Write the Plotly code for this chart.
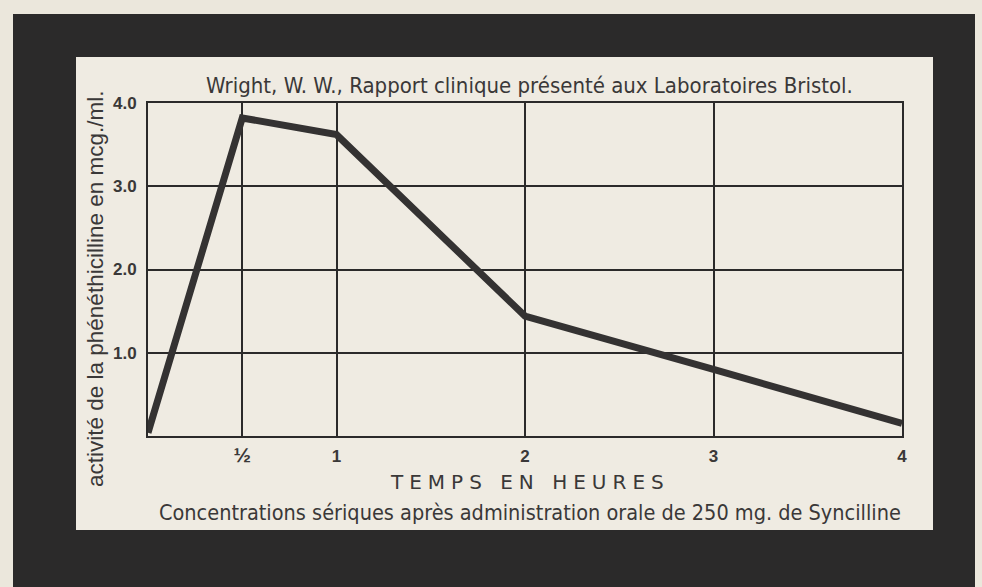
import plotly.graph_objects as go

# Serum concentration of phenethicillin after an oral dose of 250 mg
hours = [0, 0.5, 1, 2, 3, 4]
activity = [0.04, 3.82, 3.62, 1.44, 0.80, 0.15]

x_tick_vals = [0.5, 1, 2, 3, 4]
x_tick_text = ['<span style="font-size:21px">½</span>', "1", "2", "3", "4"]
y_tick_vals = [1, 2, 3, 4]
y_tick_text = ["1.0", "2.0", "3.0", "4.0"]

W, H = 982, 587
L, R, T, B = 148, 80, 103, 151
PW, PH = W - L - R, H - T - B


def px(x):
    return (x - L) / PW


def py(y):
    return (H - B - y) / PH


INK = "#2b2a2a"
PAPER = "#ebe7dc"
PANEL = "#efebe2"
TEXT = "#3a3838"
NARROW = "Liberation Sans Narrow, DejaVu Sans Condensed, Liberation Sans, sans-serif"
SANS = "Liberation Sans, Arial, sans-serif"


def label(text, x, y, font, angle=0):
    return dict(text=text, x=px(x), y=py(y), xref="paper", yref="paper",
                xanchor="center", yanchor="middle", showarrow=False,
                textangle=angle, font=font)


fig = go.Figure()
fig.add_trace(go.Scatter(
    x=hours, y=activity, mode="lines",
    line=dict(color="#343232", width=7),
    hoverinfo="skip", showlegend=False,
))

shapes = [
    dict(type="rect", xref="paper", yref="paper", layer="below",
         x0=px(13), x1=px(975), y0=py(14), y1=py(600),
         fillcolor=INK, line=dict(width=0)),
    dict(type="rect", xref="paper", yref="paper", layer="below",
         x0=px(76), x1=px(933), y0=py(57), y1=py(530),
         fillcolor=PANEL, line=dict(width=0)),
]

annotations = [
    label("Wright, W. W., Rapport clinique présenté aux Laboratoires Bristol.",
          529, 86, dict(family=NARROW, size=22, color=TEXT)),
    label("activité de la phénéthicilline en mcg./ml.",
          95, 289, dict(family=SANS, size=22.5, color=TEXT), angle=-90),
    label('<span style="letter-spacing:6px">TEMPS EN HEURES</span>',
          530, 482, dict(family="DejaVu Sans, sans-serif", size=20, color=TEXT)),
    label("Concentrations sériques après administration orale de 250 mg. de Syncilline",
          530, 512, dict(family=NARROW, size=21.5, color=TEXT)),
]

fig.update_layout(
    width=W, height=H,
    margin=dict(l=L, r=R, t=T, b=B),
    paper_bgcolor=PAPER,
    plot_bgcolor="rgba(0,0,0,0)",
    shapes=shapes,
    annotations=annotations,
    xaxis=dict(range=[0, 4], tickvals=x_tick_vals, ticktext=x_tick_text,
               showgrid=True, gridcolor=INK, gridwidth=2,
               showline=True, linecolor=INK, linewidth=2, mirror=True,
               zeroline=False, ticks="", ticklabelstandoff=4,
               tickfont=dict(family=SANS, size=17, color=TEXT, weight="bold")),
    yaxis=dict(range=[0, 4], tickvals=y_tick_vals, ticktext=y_tick_text,
               showgrid=True, gridcolor=INK, gridwidth=2,
               showline=True, linecolor=INK, linewidth=2, mirror=True,
               zeroline=False, ticks="", ticklabelstandoff=6,
               tickfont=dict(family=SANS, size=17, color=TEXT, weight="bold")),
)

fig.write_html("out.html")
